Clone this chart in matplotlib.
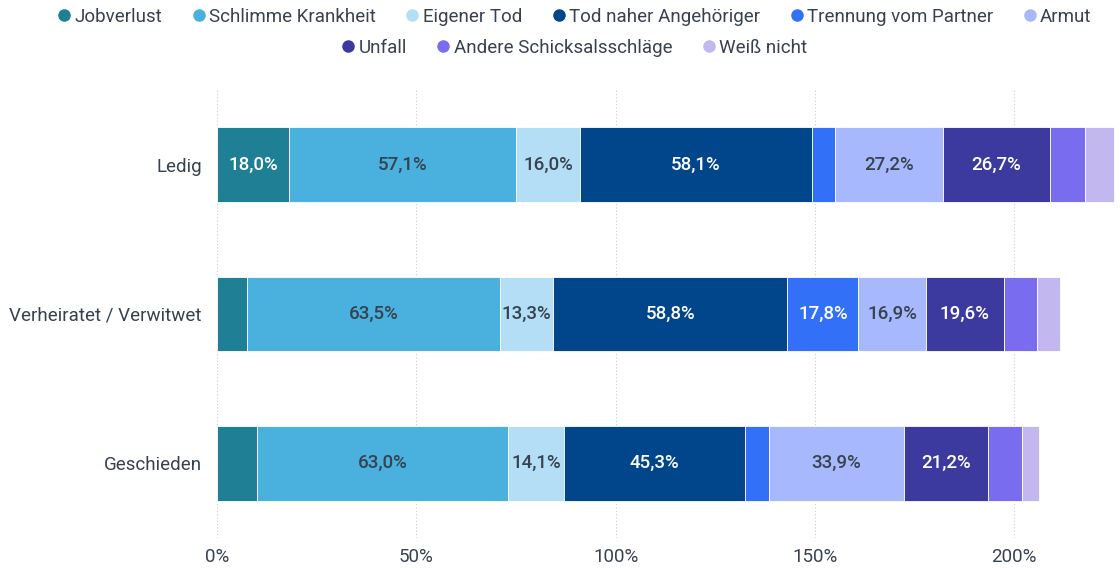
import matplotlib.pyplot as plt
from matplotlib.lines import Line2D
import numpy as np

plt.rcParams['font.family'] = ['Roboto', 'DejaVu Sans']

groups = ["Ledig", "Verheiratet / Verwitwet", "Geschieden"]
series = ["Jobverlust", "Schlimme Krankheit", "Eigener Tod", "Tod naher Angehöriger",
          "Trennung vom Partner", "Armut", "Unfall", "Andere Schicksalsschläge", "Weiß nicht"]
colors = ["#1f7f95", "#4ab0dd", "#b3def6", "#01468b", "#3170f7",
          "#a7b9fc", "#3c3a9f", "#7a6cee", "#c2b7ef"]
text_colors = ["white", "#37424f", "#37424f", "white", "white",
               "#37424f", "white", "white", "#37424f"]

values = {
    "Jobverlust":               [18.0, 7.5, 10.0],
    "Schlimme Krankheit":       [57.1, 63.5, 63.0],
    "Eigener Tod":              [16.0, 13.3, 14.1],
    "Tod naher Angehöriger":    [58.1, 58.8, 45.3],
    "Trennung vom Partner":     [5.8, 17.8, 6.0],
    "Armut":                    [27.2, 16.9, 33.9],
    "Unfall":                   [26.7, 19.6, 21.2],
    "Andere Schicksalsschläge": [8.8, 8.3, 8.5],
    "Weiß nicht":               [7.3, 5.8, 4.3],
}

fig = plt.figure(figsize=(11.2, 5.68), dpi=100)
ax = fig.add_axes([217/1120, 1 - 538/568, (1116 - 217)/1120, (538 - 90)/568])

ypos = np.arange(len(groups))
left = np.zeros(len(groups))
for i, name in enumerate(series):
    vals = np.array(values[name])
    ax.barh(ypos, vals, left=left, height=0.5, color=colors[i],
            edgecolor="white", linewidth=0.6, zorder=3)
    for j, v in enumerate(vals):
        if v >= 12:
            ax.text(left[j] + v / 2, ypos[j], f"{v:.1f}%".replace(".", ","),
                    ha="center", va="center", color=text_colors[i], fontsize=13.5,
                    fontweight="medium", zorder=4)
    left += vals

ax.set_xlim(0, 225.5)
ax.set_ylim(2.5, -0.5)
ax.set_xticks([0, 50, 100, 150, 200])
ax.set_xticklabels(["0%", "50%", "100%", "150%", "200%"])
ax.set_yticks(ypos)
ax.set_yticklabels(groups)
ax.tick_params(axis="both", length=0, labelsize=13.5, colors="#37424f")
ax.tick_params(axis="x", pad=7)
ax.tick_params(axis="y", pad=11)
ax.grid(axis="x", color="#cccccc", linestyle=(0, (1, 2)), linewidth=0.8, zorder=0)
for s in ax.spines.values():
    s.set_visible(False)

def handle(c):
    return Line2D([], [], marker="o", linestyle="", markersize=8,
                  markerfacecolor=c, markeredgecolor=c)

legend_kw = dict(loc="center", frameon=False, fontsize=13.5, handlelength=0.7,
                 handletextpad=0.2, columnspacing=1.6, labelcolor="#37424f")
fig.legend([handle(c) for c in colors[:6]], series[:6], ncol=6,
           bbox_to_anchor=(0.513, 1 - 17/568), **legend_kw)
fig.legend([handle(c) for c in colors[6:]], series[6:], ncol=3,
           bbox_to_anchor=(0.513, 1 - 48/568), **legend_kw)

fig.savefig("out.png", dpi=100)
